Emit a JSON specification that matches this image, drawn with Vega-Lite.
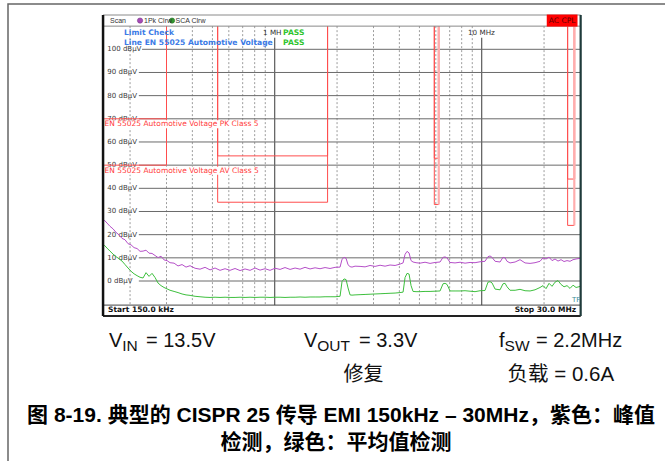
{
  "$schema": "https://vega.github.io/schema/vega-lite/v6.json",
  "width": 660,
  "height": 460,
  "autosize": {"type": "none"},
  "padding": {"left": 8, "top": 4, "right": 0, "bottom": 0},
  "background": "white",
  "config": {
    "axis": {"disable": true},
    "legend": {"disable": true},
    "view": {"stroke": "#666", "strokeWidth": 1.5}
  },
  "datasets": {
    "vgrid": [{"f":0.2},{"f":0.3},{"f":0.4},{"f":0.5},{"f":0.6},{"f":0.7},{"f":0.8},{"f":0.9},{"f":2},{"f":3},{"f":4},{"f":5},{"f":6},{"f":7},{"f":8},{"f":9},{"f":20}],
    "vmajor": [{"f":1},{"f":10}],
    "hgrid": [
      {"db":100,"label":"100 dBµV"},{"db":90,"label":"90 dBµV"},{"db":80,"label":"80 dBµV"},{"db":70,"label":"70 dBµV"},
      {"db":60,"label":"60 dBµV"},{"db":50,"label":"50 dBµV"},{"db":40,"label":"40 dBµV"},{"db":30,"label":"30 dBµV"},
      {"db":20,"label":"20 dBµV"},{"db":10,"label":"10 dBµV"},{"db":0,"label":"0 dBµV"}
    ],
    "limits": [
      {"line":"PK","f":0.15,"f2":0.3,"db":70,"db2":70},
      {"line":"PK","f":0.3,"f2":0.3,"db":70,"db2":110},
      {"line":"PK","f":0.53,"f2":0.53,"db":54,"db2":110},
      {"line":"PK","f":0.53,"f2":1.8,"db":54,"db2":54},
      {"line":"PK","f":1.8,"f2":1.8,"db":54,"db2":110},
      {"line":"PK","f":5.9,"f2":5.9,"db":53,"db2":110},
      {"line":"PK","f":5.9,"f2":6.2,"db":53,"db2":53},
      {"line":"PK","f":6.2,"f2":6.2,"db":53,"db2":110},
      {"line":"PK","f":26,"f2":26,"db":44,"db2":110},
      {"line":"PK","f":26,"f2":28,"db":44,"db2":44},
      {"line":"PK","f":28,"f2":28,"db":44,"db2":110},
      {"line":"AV","f":0.15,"f2":0.3,"db":50,"db2":50},
      {"line":"AV","f":0.3,"f2":0.3,"db":50,"db2":110},
      {"line":"AV","f":0.53,"f2":0.53,"db":34,"db2":110},
      {"line":"AV","f":0.53,"f2":1.8,"db":34,"db2":34},
      {"line":"AV","f":1.8,"f2":1.8,"db":34,"db2":110},
      {"line":"AV","f":5.9,"f2":5.9,"db":33,"db2":110},
      {"line":"AV","f":5.9,"f2":6.2,"db":33,"db2":33},
      {"line":"AV","f":6.2,"f2":6.2,"db":33,"db2":110},
      {"line":"AV","f":26,"f2":26,"db":24,"db2":110},
      {"line":"AV","f":26,"f2":28,"db":24,"db2":24},
      {"line":"AV","f":28,"f2":28,"db":24,"db2":110}
    ],
    "limitlabels": [
      {"text":"EN 55025 Automotive Voltage PK Class 5","db":67.6},
      {"text":"EN 55025 Automotive Voltage AV Class 5","db":47.6}
    ],
    "trace": [
      {"f":0.15,"peak":26.3,"avg":15.5},{"f":0.1548,"peak":25.0,"avg":14.2},{"f":0.16,"peak":23.6,"avg":12.9},
      {"f":0.1655,"peak":22.5,"avg":11.6},{"f":0.1711,"peak":21.0,"avg":10.5},{"f":0.1769,"peak":19.9,"avg":9.6},
      {"f":0.1829,"peak":18.4,"avg":8.6},{"f":0.1891,"peak":17.8,"avg":7.1},{"f":0.1956,"peak":16.1,"avg":5.6},
      {"f":0.2022,"peak":15.6,"avg":4.2},{"f":0.2091,"peak":14.4,"avg":3.1},{"f":0.2162,"peak":14.0,"avg":2.3},
      {"f":0.2235,"peak":12.8,"avg":1.6},{"f":0.2311,"peak":12.9,"avg":1.3},{"f":0.2389,"peak":13.3,"avg":3.6},
      {"f":0.247,"peak":12.0,"avg":2.0},{"f":0.2554,"peak":11.9,"avg":3.3},{"f":0.2641,"peak":11.0,"avg":1.5},
      {"f":0.2731,"peak":10.1,"avg":-0.9},{"f":0.2823,"peak":10.7,"avg":-2.0},{"f":0.2919,"peak":9.1,"avg":-2.8},
      {"f":0.3018,"peak":8.8,"avg":-3.4},{"f":0.312,"peak":7.9,"avg":-4.0},{"f":0.3263,"peak":7.7,"avg":-4.5},
      {"f":0.341,"peak":6.5,"avg":-5.0},{"f":0.3566,"peak":7.1,"avg":-5.6},{"f":0.3727,"peak":6.0,"avg":-6.0},
      {"f":0.3898,"peak":6.6,"avg":-6.2},{"f":0.4121,"peak":5.5,"avg":-6.6},{"f":0.4356,"peak":5.1,"avg":-6.8},
      {"f":0.4606,"peak":5.9,"avg":-7.0},{"f":0.4869,"peak":4.8,"avg":-7.1},{"f":0.5148,"peak":5.6,"avg":-7.0},
      {"f":0.5441,"peak":4.6,"avg":-7.1},{"f":0.5753,"peak":5.3,"avg":-7.0},{"f":0.6082,"peak":4.6,"avg":-7.1},
      {"f":0.643,"peak":5.4,"avg":-7.1},{"f":0.6798,"peak":4.5,"avg":-7.0},{"f":0.7186,"peak":5.2,"avg":-7.1},
      {"f":0.7597,"peak":4.6,"avg":-7.0},{"f":0.8032,"peak":5.6,"avg":-7.1},{"f":0.8491,"peak":4.7,"avg":-7.0},
      {"f":0.8977,"peak":5.3,"avg":-7.0},{"f":0.949,"peak":4.6,"avg":-7.1},{"f":1.003,"peak":5.5,"avg":-7.0},
      {"f":1.061,"peak":5.0,"avg":-7.0},{"f":1.121,"peak":5.8,"avg":-7.1},{"f":1.186,"peak":5.0,"avg":-7.0},
      {"f":1.254,"peak":5.6,"avg":-7.0},{"f":1.325,"peak":5.1,"avg":-6.9},{"f":1.401,"peak":5.9,"avg":-7.0},
      {"f":1.481,"peak":5.2,"avg":-6.9},{"f":1.566,"peak":5.7,"avg":-6.9},{"f":1.655,"peak":5.3,"avg":-6.9},
      {"f":1.75,"peak":5.8,"avg":-6.8},{"f":1.85,"peak":5.4,"avg":-6.8},{"f":1.956,"peak":5.9,"avg":-6.8},
      {"f":2.068,"peak":6.0,"avg":-6.6},{"f":2.114,"peak":9.4,"avg":-0.2},{"f":2.162,"peak":10.2,"avg":0.9},
      {"f":2.211,"peak":9.8,"avg":0.6},{"f":2.26,"peak":7.0,"avg":-3.0},{"f":2.311,"peak":6.2,"avg":-6.0},
      {"f":2.362,"peak":6.0,"avg":-6.1},{"f":2.443,"peak":6.4,"avg":-6.0},{"f":2.583,"peak":6.3,"avg":-5.9},
      {"f":2.731,"peak":6.1,"avg":-5.8},{"f":2.887,"peak":6.7,"avg":-5.7},{"f":3.052,"peak":6.3,"avg":-5.6},
      {"f":3.227,"peak":6.8,"avg":-5.5},{"f":3.411,"peak":6.4,"avg":-5.4},{"f":3.606,"peak":6.9,"avg":-5.3},
      {"f":3.813,"peak":6.7,"avg":-5.2},{"f":4.031,"peak":7.3,"avg":-5.0},{"f":4.168,"peak":7.8,"avg":-4.8},
      {"f":4.261,"peak":11.5,"avg":1.5},{"f":4.357,"peak":12.8,"avg":3.3},{"f":4.455,"peak":12.1,"avg":3.0},
      {"f":4.555,"peak":8.8,"avg":-2.0},{"f":4.657,"peak":8.2,"avg":-4.5},{"f":4.815,"peak":7.9,"avg":-4.6},
      {"f":5.034,"peak":7.7,"avg":-4.6},{"f":5.322,"peak":8.1,"avg":-4.5},{"f":5.627,"peak":7.6,"avg":-4.5},
      {"f":5.949,"peak":8.0,"avg":-4.4},{"f":6.29,"peak":8.2,"avg":-4.3},{"f":6.502,"peak":10.2,"avg":-1.2},
      {"f":6.649,"peak":10.4,"avg":-1.0},{"f":6.799,"peak":10.0,"avg":-1.5},{"f":7.03,"peak":8.0,"avg":-4.3},
      {"f":7.431,"peak":7.8,"avg":-4.3},{"f":7.857,"peak":8.1,"avg":-4.3},{"f":8.306,"peak":7.7,"avg":-4.2},
      {"f":8.78,"peak":8.0,"avg":-4.4},{"f":9.282,"peak":7.9,"avg":-4.6},{"f":9.813,"peak":8.3,"avg":-4.2},
      {"f":10.37,"peak":8.5,"avg":-4.1},{"f":10.72,"peak":10.5,"avg":-0.5},{"f":10.97,"peak":10.8,"avg":-0.3},
      {"f":11.21,"peak":10.2,"avg":-0.8},{"f":11.6,"peak":8.5,"avg":-3.5},{"f":12.26,"peak":8.2,"avg":-3.8},
      {"f":12.67,"peak":10.2,"avg":-1.2},{"f":12.96,"peak":10.0,"avg":-1.0},{"f":13.25,"peak":8.5,"avg":-2.5},
      {"f":13.7,"peak":7.8,"avg":-4.0},{"f":14.49,"peak":8.2,"avg":-4.0},{"f":15.31,"peak":9.2,"avg":-3.6},
      {"f":16.19,"peak":7.8,"avg":-4.2},{"f":17.12,"peak":7.6,"avg":-4.3},{"f":18.09,"peak":7.9,"avg":-3.8},
      {"f":19.12,"peak":8.5,"avg":-2.8},{"f":19.78,"peak":10.0,"avg":-2.0},{"f":20.45,"peak":9.5,"avg":-3.3},
      {"f":21.14,"peak":10.3,"avg":-1.0},{"f":21.86,"peak":8.8,"avg":-2.3},{"f":22.6,"peak":9.5,"avg":-0.5},
      {"f":23.36,"peak":8.6,"avg":0.2},{"f":24.16,"peak":9.2,"avg":-1.5},{"f":24.98,"peak":8.4,"avg":-2.5},
      {"f":25.83,"peak":8.8,"avg":-2.0},{"f":26.7,"peak":8.5,"avg":-3.2},{"f":27.61,"peak":9.2,"avg":-1.8},
      {"f":28.55,"peak":9.5,"avg":-2.8},{"f":30,"peak":9.8,"avg":-2.3}
    ],
    "notes": [
      {"kind":"header","text":"Scan","f":0.16,"db":112.4},
      {"kind":"header","text":"1Pk Clrw","f":0.2337,"db":112.4},
      {"kind":"header","text":"SCA Clrw","f":0.3317,"db":112.4},
      {"kind":"limitcheck","text":"Limit Check","f":0.187,"db":107.2},
      {"kind":"limitcheck","text":"Line EN 55025 Automotive Voltage","f":0.187,"db":102.6},
      {"kind":"pass","text":"PASS","f":1.097,"db":107.2},
      {"kind":"pass","text":"PASS","f":1.097,"db":102.6},
      {"kind":"freq","text":"1 MH","f":0.878,"db":107.2},
      {"kind":"freq","text":"10 MHz","f":8.587,"db":107.2},
      {"kind":"start","text":"Start 150.0 kHz","f":0.1565,"db":-12.4},
      {"kind":"stop","text":"Stop 30.0 MHz","f":28.55,"db":-12.4},
      {"kind":"tf","text":"TF","f":29.9,"db":-8.2},
      {"kind":"ac","text":"AC CPL","f":24.46,"db":112.4}
    ],
    "markers": [
      {"trace":"peak","f":0.2235,"db":112.4},
      {"trace":"avg","f":0.319,"db":112.4}
    ],
    "caption": [
      {"part":"main","col":"c1","row":"r1","text":"V"},
      {"part":"main","col":"c2","row":"r1","text":"V"},
      {"part":"main","col":"c3","row":"r1","text":"f"},
      {"part":"subV","col":"c1","row":"r1","text":"IN"},
      {"part":"subV","col":"c2","row":"r1","text":"OUT"},
      {"part":"subF","col":"c3","row":"r1","text":"SW"},
      {"part":"rest1","col":"c1","row":"r1","text":"= 13.5V"},
      {"part":"rest2","col":"c2","row":"r1","text":"= 3.3V"},
      {"part":"rest3","col":"c3","row":"r1","text":"= 2.2MHz"},
      {"part":"note2","col":"c2","row":"r2","text":"修复"},
      {"part":"note3","col":"c3","row":"r2","text":"负载 = 0.6A"},
      {"part":"title1","col":"c2","row":"t1","text":"图 8-19. 典型的 CISPR 25 传导 EMI 150kHz – 30MHz，紫色：峰值"},
      {"part":"title2","col":"c2","row":"t2","text":"检测，绿色：平均值检测"}
    ]
  },
  "layer": [
    {
      "layer": [
        {
          "data": {"name": "vgrid"},
          "mark": {"type": "rule", "color": "#9c9c9c", "strokeWidth": 1, "strokeDash": [2, 2]},
          "encoding": {
            "x": {"field": "f", "type": "quantitative", "scale": {"type": "log", "domain": [0.15, 30], "range": [96.2, 572.5], "nice": false}},
            "y": {"datum": 110, "type": "quantitative", "scale": {"type": "linear", "domain": [0, 100], "range": [277, 45.3], "nice": false, "zero": false}},
            "y2": {"datum": -10.4}
          }
        },
        {
          "data": {"name": "vmajor"},
          "mark": {"type": "rule", "color": "#3a3a3a", "strokeWidth": 1},
          "encoding": {
            "x": {"field": "f", "type": "quantitative", "scale": {"type": "log", "domain": [0.15, 30], "range": [96.2, 572.5], "nice": false}},
            "y": {"datum": 105, "type": "quantitative", "scale": {"type": "linear", "domain": [0, 100], "range": [277, 45.3], "nice": false, "zero": false}},
            "y2": {"datum": -10.4}
          }
        },
        {
          "data": {"name": "hgrid"},
          "transform": [{"filter": "datum.db < 100"}],
          "mark": {"type": "rule", "color": "#6a6a6a", "strokeWidth": 1},
          "encoding": {
            "x": {"datum": 0.2205, "type": "quantitative", "scale": {"type": "log", "domain": [0.15, 30], "range": [96.2, 572.5], "nice": false}},
            "x2": {"datum": 30},
            "y": {"field": "db", "type": "quantitative", "scale": {"type": "linear", "domain": [0, 100], "range": [277, 45.3], "nice": false, "zero": false}}
          }
        },
        {
          "data": {"name": "hgrid"},
          "transform": [{"filter": "datum.db == 100"}],
          "mark": {"type": "rule", "color": "#6a6a6a", "strokeWidth": 1},
          "encoding": {
            "x": {"datum": 0.2286, "type": "quantitative", "scale": {"type": "log", "domain": [0.15, 30], "range": [96.2, 572.5], "nice": false}},
            "x2": {"datum": 30},
            "y": {"field": "db", "type": "quantitative", "scale": {"type": "linear", "domain": [0, 100], "range": [277, 45.3], "nice": false, "zero": false}}
          }
        },
        {
          "data": {"name": "hgrid"},
          "mark": {"type": "text", "align": "left", "baseline": "middle", "font": "DejaVu Sans", "fontSize": 7, "color": "#3a3a3a"},
          "encoding": {
            "x": {"datum": 0.1553, "type": "quantitative", "scale": {"type": "log", "domain": [0.15, 30], "range": [96.2, 572.5], "nice": false}},
            "y": {"field": "db", "type": "quantitative", "scale": {"type": "linear", "domain": [0, 100], "range": [277, 45.3], "nice": false, "zero": false}},
            "text": {"field": "label", "type": "nominal"}
          }
        },
        {
          "data": {"name": "limits"},
          "transform": [{"filter": "!(datum.f == datum.f2 && (datum.f == 6.2 || datum.f == 28))"}],
          "mark": {"type": "rule", "color": "#ff4d4d", "strokeWidth": 1},
          "encoding": {
            "x": {"field": "f", "type": "quantitative", "scale": {"type": "log", "domain": [0.15, 30], "range": [96.2, 572.5], "nice": false}},
            "x2": {"field": "f2"},
            "y": {"field": "db", "type": "quantitative", "scale": {"type": "linear", "domain": [0, 100], "range": [277, 45.3], "nice": false, "zero": false}},
            "y2": {"field": "db2"}
          }
        },
        {
          "data": {"name": "limits"},
          "transform": [{"filter": "datum.f == datum.f2 && (datum.f == 6.2 || datum.f == 28)"}],
          "mark": {"type": "rule", "color": "#ffadad", "strokeWidth": 2.2},
          "encoding": {
            "x": {"field": "f", "type": "quantitative", "scale": {"type": "log", "domain": [0.15, 30], "range": [96.2, 572.5], "nice": false}},
            "x2": {"field": "f2"},
            "y": {"field": "db", "type": "quantitative", "scale": {"type": "linear", "domain": [0, 100], "range": [277, 45.3], "nice": false, "zero": false}},
            "y2": {"field": "db2"}
          }
        },
        {
          "data": {"name": "limitlabels"},
          "mark": {"type": "rule", "color": "white", "strokeWidth": 8, "strokeCap": "butt"},
          "encoding": {
            "x": {"datum": 0.151, "type": "quantitative", "scale": {"type": "log", "domain": [0.15, 30], "range": [96.2, 572.5], "nice": false}},
            "x2": {"datum": 0.86},
            "y": {"field": "db", "type": "quantitative", "scale": {"type": "linear", "domain": [0, 100], "range": [277, 45.3], "nice": false, "zero": false}}
          }
        },
        {
          "data": {"name": "limitlabels"},
          "mark": {"type": "text", "align": "left", "baseline": "middle", "font": "DejaVu Sans", "fontSize": 7.5, "color": "#ff3b3b"},
          "encoding": {
            "x": {"datum": 0.1505, "type": "quantitative", "scale": {"type": "log", "domain": [0.15, 30], "range": [96.2, 572.5], "nice": false}},
            "y": {"field": "db", "type": "quantitative", "scale": {"type": "linear", "domain": [0, 100], "range": [277, 45.3], "nice": false, "zero": false}},
            "text": {"field": "text", "type": "nominal"}
          }
        },
        {
          "data": {"name": "trace"},
          "mark": {"type": "line", "color": "#b54fc8", "strokeWidth": 1},
          "encoding": {
            "x": {"field": "f", "type": "quantitative", "scale": {"type": "log", "domain": [0.15, 30], "range": [96.2, 572.5], "nice": false}},
            "y": {"field": "peak", "type": "quantitative", "scale": {"type": "linear", "domain": [0, 100], "range": [277, 45.3], "nice": false, "zero": false}}
          }
        },
        {
          "data": {"name": "trace"},
          "mark": {"type": "line", "color": "#3dbf3d", "strokeWidth": 1},
          "encoding": {
            "x": {"field": "f", "type": "quantitative", "scale": {"type": "log", "domain": [0.15, 30], "range": [96.2, 572.5], "nice": false}},
            "y": {"field": "avg", "type": "quantitative", "scale": {"type": "linear", "domain": [0, 100], "range": [277, 45.3], "nice": false, "zero": false}}
          }
        },
        {
          "data": {"values": [{}]},
          "mark": {"type": "rect", "fillOpacity": 0, "stroke": "#8a8a8a", "strokeWidth": 1},
          "encoding": {
            "x": {"datum": 0.1481, "type": "quantitative", "scale": {"type": "log", "domain": [0.15, 30], "range": [96.2, 572.5], "nice": false}},
            "x2": {"datum": 30.05},
            "y": {"datum": 114.8, "type": "quantitative", "scale": {"type": "linear", "domain": [0, 100], "range": [277, 45.3], "nice": false, "zero": false}},
            "y2": {"datum": -15.1}
          }
        },
        {
          "data": {"values": [{}]},
          "mark": {"type": "rule", "color": "#8a8a8a", "strokeWidth": 1},
          "encoding": {
            "x": {"datum": 0.1481, "type": "quantitative", "scale": {"type": "log", "domain": [0.15, 30], "range": [96.2, 572.5], "nice": false}},
            "x2": {"datum": 30.05},
            "y": {"datum": 110, "type": "quantitative", "scale": {"type": "linear", "domain": [0, 100], "range": [277, 45.3], "nice": false, "zero": false}}
          }
        },
        {
          "data": {"values": [{}]},
          "mark": {"type": "rule", "color": "#444", "strokeWidth": 1},
          "encoding": {
            "x": {"datum": 0.1481, "type": "quantitative", "scale": {"type": "log", "domain": [0.15, 30], "range": [96.2, 572.5], "nice": false}},
            "x2": {"datum": 30.05},
            "y": {"datum": -10.4, "type": "quantitative", "scale": {"type": "linear", "domain": [0, 100], "range": [277, 45.3], "nice": false, "zero": false}}
          }
        },
        {
          "data": {"values": [{}]},
          "mark": {"type": "rule", "color": "#222", "strokeWidth": 2},
          "encoding": {
            "x": {"datum": 0.1481, "type": "quantitative", "scale": {"type": "log", "domain": [0.15, 30], "range": [96.2, 572.5], "nice": false}},
            "x2": {"datum": 30.05},
            "y": {"datum": -15.1, "type": "quantitative", "scale": {"type": "linear", "domain": [0, 100], "range": [277, 45.3], "nice": false, "zero": false}}
          }
        },
        {
          "data": {"values": [{}]},
          "mark": {"type": "rule", "color": "#111", "strokeWidth": 2.5},
          "encoding": {
            "x": {"datum": 0.1481, "type": "quantitative", "scale": {"type": "log", "domain": [0.15, 30], "range": [96.2, 572.5], "nice": false}},
            "y": {"datum": 114.8, "type": "quantitative", "scale": {"type": "linear", "domain": [0, 100], "range": [277, 45.3], "nice": false, "zero": false}},
            "y2": {"datum": -15.1}
          }
        },
        {
          "data": {"values": [{}]},
          "mark": {"type": "rule", "color": "#1f3b3b", "strokeWidth": 2.2},
          "encoding": {
            "x": {"datum": 30.05, "type": "quantitative", "scale": {"type": "log", "domain": [0.15, 30], "range": [96.2, 572.5], "nice": false}},
            "y": {"datum": 114.8, "type": "quantitative", "scale": {"type": "linear", "domain": [0, 100], "range": [277, 45.3], "nice": false, "zero": false}},
            "y2": {"datum": -15.1}
          }
        },
        {
          "data": {"values": [{}]},
          "mark": {"type": "rect", "fill": "#ff0000"},
          "encoding": {
            "x": {"datum": 20.61, "type": "quantitative", "scale": {"type": "log", "domain": [0.15, 30], "range": [96.2, 572.5], "nice": false}},
            "x2": {"datum": 29.02},
            "y": {"datum": 115.0, "type": "quantitative", "scale": {"type": "linear", "domain": [0, 100], "range": [277, 45.3], "nice": false, "zero": false}},
            "y2": {"datum": 109.8}
          }
        },
        {
          "data": {"name": "markers"},
          "transform": [{"filter": "datum.trace == 'peak'"}],
          "mark": {"type": "circle", "size": 28, "color": "#a64bb8", "opacity": 1, "stroke": "#6a2a78", "strokeWidth": 0.5},
          "encoding": {
            "x": {"field": "f", "type": "quantitative", "scale": {"type": "log", "domain": [0.15, 30], "range": [96.2, 572.5], "nice": false}},
            "y": {"field": "db", "type": "quantitative", "scale": {"type": "linear", "domain": [0, 100], "range": [277, 45.3], "nice": false, "zero": false}}
          }
        },
        {
          "data": {"name": "markers"},
          "transform": [{"filter": "datum.trace == 'avg'"}],
          "mark": {"type": "circle", "size": 28, "color": "#2f9a2f", "opacity": 1, "stroke": "#1d5e1d", "strokeWidth": 0.5},
          "encoding": {
            "x": {"field": "f", "type": "quantitative", "scale": {"type": "log", "domain": [0.15, 30], "range": [96.2, 572.5], "nice": false}},
            "y": {"field": "db", "type": "quantitative", "scale": {"type": "linear", "domain": [0, 100], "range": [277, 45.3], "nice": false, "zero": false}}
          }
        },
        {
          "data": {"name": "notes"},
          "transform": [{"filter": "datum.kind == 'header'"}],
          "mark": {"type": "text", "align": "left", "baseline": "middle", "font": "Liberation Sans Narrow, Liberation Sans", "fontSize": 7, "color": "#333"},
          "encoding": {
            "x": {"field": "f", "type": "quantitative", "scale": {"type": "log", "domain": [0.15, 30], "range": [96.2, 572.5], "nice": false}},
            "y": {"field": "db", "type": "quantitative", "scale": {"type": "linear", "domain": [0, 100], "range": [277, 45.3], "nice": false, "zero": false}},
            "text": {"field": "text", "type": "nominal"}
          }
        },
        {
          "data": {"name": "notes"},
          "transform": [{"filter": "datum.kind == 'limitcheck'"}],
          "mark": {"type": "text", "align": "left", "baseline": "middle", "font": "DejaVu Sans", "fontWeight": "bold", "fontSize": 7.6, "color": "#3c7be6"},
          "encoding": {
            "x": {"field": "f", "type": "quantitative", "scale": {"type": "log", "domain": [0.15, 30], "range": [96.2, 572.5], "nice": false}},
            "y": {"field": "db", "type": "quantitative", "scale": {"type": "linear", "domain": [0, 100], "range": [277, 45.3], "nice": false, "zero": false}},
            "text": {"field": "text", "type": "nominal"}
          }
        },
        {
          "data": {"name": "notes"},
          "transform": [{"filter": "datum.kind == 'freq'"}],
          "mark": {"type": "text", "align": "left", "baseline": "middle", "font": "DejaVu Sans", "fontSize": 7.2, "color": "#333"},
          "encoding": {
            "x": {"field": "f", "type": "quantitative", "scale": {"type": "log", "domain": [0.15, 30], "range": [96.2, 572.5], "nice": false}},
            "y": {"field": "db", "type": "quantitative", "scale": {"type": "linear", "domain": [0, 100], "range": [277, 45.3], "nice": false, "zero": false}},
            "text": {"field": "text", "type": "nominal"}
          }
        },
        {
          "data": {"name": "notes"},
          "transform": [{"filter": "datum.kind == 'pass'"}],
          "mark": {"type": "text", "align": "left", "baseline": "middle", "font": "DejaVu Sans", "fontWeight": "bold", "fontSize": 7.6, "color": "#2fc42f"},
          "encoding": {
            "x": {"field": "f", "type": "quantitative", "scale": {"type": "log", "domain": [0.15, 30], "range": [96.2, 572.5], "nice": false}},
            "y": {"field": "db", "type": "quantitative", "scale": {"type": "linear", "domain": [0, 100], "range": [277, 45.3], "nice": false, "zero": false}},
            "text": {"field": "text", "type": "nominal"}
          }
        },
        {
          "data": {"name": "notes"},
          "transform": [{"filter": "datum.kind == 'start'"}],
          "mark": {"type": "text", "align": "left", "baseline": "middle", "font": "DejaVu Sans", "fontWeight": "bold", "fontSize": 7.5, "color": "#111"},
          "encoding": {
            "x": {"field": "f", "type": "quantitative", "scale": {"type": "log", "domain": [0.15, 30], "range": [96.2, 572.5], "nice": false}},
            "y": {"field": "db", "type": "quantitative", "scale": {"type": "linear", "domain": [0, 100], "range": [277, 45.3], "nice": false, "zero": false}},
            "text": {"field": "text", "type": "nominal"}
          }
        },
        {
          "data": {"name": "notes"},
          "transform": [{"filter": "datum.kind == 'stop'"}],
          "mark": {"type": "text", "align": "right", "baseline": "middle", "font": "DejaVu Sans", "fontWeight": "bold", "fontSize": 7.5, "color": "#111"},
          "encoding": {
            "x": {"field": "f", "type": "quantitative", "scale": {"type": "log", "domain": [0.15, 30], "range": [96.2, 572.5], "nice": false}},
            "y": {"field": "db", "type": "quantitative", "scale": {"type": "linear", "domain": [0, 100], "range": [277, 45.3], "nice": false, "zero": false}},
            "text": {"field": "text", "type": "nominal"}
          }
        },
        {
          "data": {"name": "notes"},
          "transform": [{"filter": "datum.kind == 'tf'"}],
          "mark": {"type": "text", "align": "right", "baseline": "middle", "font": "DejaVu Sans", "fontSize": 7, "color": "#3b8c99"},
          "encoding": {
            "x": {"field": "f", "type": "quantitative", "scale": {"type": "log", "domain": [0.15, 30], "range": [96.2, 572.5], "nice": false}},
            "y": {"field": "db", "type": "quantitative", "scale": {"type": "linear", "domain": [0, 100], "range": [277, 45.3], "nice": false, "zero": false}},
            "text": {"field": "text", "type": "nominal"}
          }
        },
        {
          "data": {"name": "notes"},
          "transform": [{"filter": "datum.kind == 'ac'"}],
          "mark": {"type": "text", "align": "center", "baseline": "middle", "font": "DejaVu Sans", "fontSize": 7.5, "color": "#5c0000"},
          "encoding": {
            "x": {"field": "f", "type": "quantitative", "scale": {"type": "log", "domain": [0.15, 30], "range": [96.2, 572.5], "nice": false}},
            "y": {"field": "db", "type": "quantitative", "scale": {"type": "linear", "domain": [0, 100], "range": [277, 45.3], "nice": false, "zero": false}},
            "text": {"field": "text", "type": "nominal"}
          }
        }
      ]
    },
    {
      "data": {"name": "caption"},
      "encoding": {
        "x": {"field": "col", "type": "nominal", "scale": {"type": "point", "domain": ["c1", "c2", "c3"], "range": [101, 491], "padding": 0}},
        "y": {"field": "row", "type": "nominal", "scale": {"type": "point", "domain": ["r1", "r2", "t1", "t2"], "range": [337, 436], "padding": 0}},
        "text": {"field": "text", "type": "nominal"}
      },
      "layer": [
        {"transform": [{"filter": "datum.part == 'main'"}], "mark": {"type": "text", "align": "left", "baseline": "middle", "font": "Liberation Sans", "fontSize": 20, "color": "#111"}},
        {"transform": [{"filter": "datum.part == 'subV'"}], "mark": {"type": "text", "align": "left", "baseline": "middle", "font": "Liberation Sans", "fontSize": 15.5, "color": "#111", "dx": 13.3, "dy": 5}},
        {"transform": [{"filter": "datum.part == 'subF'"}], "mark": {"type": "text", "align": "left", "baseline": "middle", "font": "Liberation Sans", "fontSize": 15.5, "color": "#111", "dx": 5.6, "dy": 5}},
        {"transform": [{"filter": "datum.part == 'rest1'"}], "mark": {"type": "text", "align": "left", "baseline": "middle", "font": "Liberation Sans", "fontSize": 20, "color": "#111", "dx": 37}},
        {"transform": [{"filter": "datum.part == 'rest2'"}], "mark": {"type": "text", "align": "left", "baseline": "middle", "font": "Liberation Sans", "fontSize": 20, "color": "#111", "dx": 55}},
        {"transform": [{"filter": "datum.part == 'rest3'"}], "mark": {"type": "text", "align": "left", "baseline": "middle", "font": "Liberation Sans", "fontSize": 20, "color": "#111", "dx": 37}},
        {"transform": [{"filter": "datum.part == 'note2'"}], "mark": {"type": "text", "align": "left", "baseline": "middle", "font": "Liberation Sans, Noto Sans CJK SC", "fontSize": 20, "color": "#111", "dx": 39.5, "dy": 1}},
        {"transform": [{"filter": "datum.part == 'note3'"}], "mark": {"type": "text", "align": "left", "baseline": "middle", "font": "Liberation Sans, Noto Sans CJK SC", "fontSize": 20.5, "color": "#111", "dx": 8.6, "dy": 1}},
        {"transform": [{"filter": "datum.part == 'title1'"}], "mark": {"type": "text", "align": "center", "baseline": "middle", "font": "Liberation Sans, Noto Sans CJK SC", "fontWeight": "bold", "fontSize": 21, "color": "#000", "dx": 37, "dy": 8.5}},
        {"transform": [{"filter": "datum.part == 'title2'"}], "mark": {"type": "text", "align": "center", "baseline": "middle", "font": "Liberation Sans, Noto Sans CJK SC", "fontWeight": "bold", "fontSize": 21, "color": "#000", "dx": 32, "dy": 3}}
      ]
    }
  ],
  "resolve": {"scale": {"x": "independent", "y": "independent"}}
}
